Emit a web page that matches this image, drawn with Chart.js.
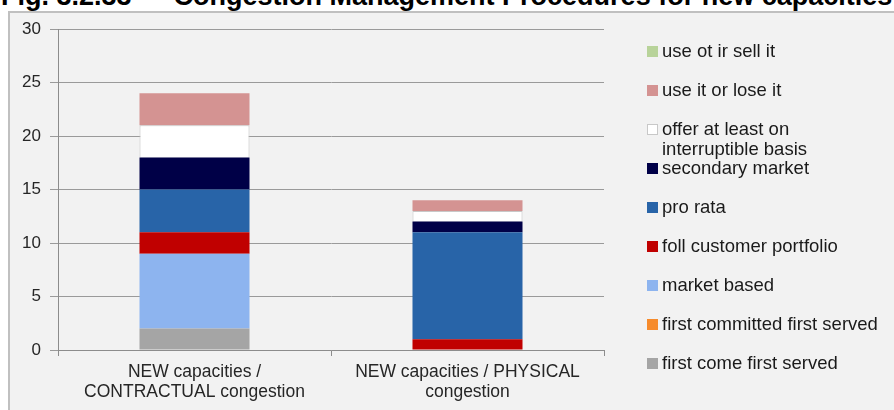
<!DOCTYPE html>
<html>
<head>
<meta charset="utf-8">
<script src="https://cdn.jsdelivr.net/npm/chart.js@4"></script>
<style>
  body { margin: 0; background: #ffffff; font-family: "Liberation Sans", Arial, sans-serif; }
  #wrap { position: relative; width: 894px; height: 410px; overflow: hidden; }
  #titulo {
    position: absolute; left: 1px; top: -17px; white-space: nowrap;
    font: bold 27px/27px "Liberation Sans", Arial, sans-serif; color: #000;
  }
  #marco {
    position: absolute; left: 8px; top: 11px; width: 900px; height: 420px;
    background: #f2f2f2; border-left: 2px solid #c0c0c0; border-top: 2px solid #c0c0c0;
  }
  #grafico { position: absolute; left: 0; top: 0; }
  #leyenda { position: absolute; left: 0; top: 0; }
  .item { position: absolute; left: 647px; font-size: 18.5px; line-height: 20px; color: #1a1a1a; white-space: nowrap; }
  .caja { position: absolute; left: 0; top: 5px; width: 11px; height: 11px; box-sizing: border-box; }
  .texto { position: absolute; left: 15px; top: 0; }
</style>
</head>
<body>
<div id="wrap">
  <div id="titulo">Fig. 3.2.33 — Congestion Management Procedures for new capacities</div>
  <div id="marco"></div>
  <canvas id="grafico" width="894" height="410"></canvas>
  <div id="leyenda"></div>
</div>
<script>
// categorias y valores (de abajo hacia arriba en la pila)
const categorias = [["NEW capacities /", "CONTRACTUAL congestion"], ["NEW capacities / PHYSICAL", "congestion"]];
const firstCome = [2, 0];
const firstCommitted = [0, 0];
const marketBased = [7, 0];
const follPortfolio = [2, 1];
const proRata = [4, 10];
const secondaryMarket = [3, 1];
const offerInterruptible = [3, 1];
const useOrLose = [3, 1];
const useOrSell = [0, 0];
const yMin = 0, yMax = 30, yPaso = 5;

const series = [
  { label: ["first come first served"], data: firstCome, color: "#a5a5a5" },
  { label: ["first committed first served"], data: firstCommitted, color: "#f68b2c" },
  { label: ["market based"], data: marketBased, color: "#8db4ef" },
  { label: ["foll customer portfolio"], data: follPortfolio, color: "#c00000" },
  { label: ["pro rata"], data: proRata, color: "#2864a8" },
  { label: ["secondary market"], data: secondaryMarket, color: "#000047" },
  { label: ["offer at least on", "interruptible basis"], data: offerInterruptible, color: "#ffffff", borde: "#c8c8c8" },
  { label: ["use it or lose it"], data: useOrLose, color: "#d49392" },
  { label: ["use ot ir sell it"], data: useOrSell, color: "#b8d39a" }
];

const ctx = document.getElementById("grafico").getContext("2d");
new Chart(ctx, {
  type: "bar",
  data: {
    labels: categorias,
    datasets: series.map(s => ({
      label: s.label.join(" "),
      data: s.data,
      backgroundColor: s.color,
      borderColor: s.borde || s.color,
      borderWidth: s.borde ? 1 : 0,
      barPercentage: 0.403,
      categoryPercentage: 1
    }))
  },
  options: {
    responsive: false,
    animation: false,
    layout: { padding: { left: 8, right: 290, top: 29, bottom: 0 } },
    plugins: { legend: { display: false }, tooltip: { enabled: false } },
    scales: {
      x: {
        stacked: true,
        afterFit: s => { s.height = 60; },
        grid: { drawOnChartArea: false, drawTicks: true, tickLength: 6, color: "#8c8c8c", offset: true },
        border: { color: "#8c8c8c" },
        ticks: { color: "#262626", padding: 6, font: { family: "Liberation Sans", size: 17.5, lineHeight: "20px" }, maxRotation: 0 }
      },
      y: {
        stacked: true,
        min: yMin, max: yMax,
        afterFit: s => { s.width = 50; },
        grid: { color: "#9a9a9a", tickLength: 8 },
        border: { color: "#8c8c8c" },
        ticks: { stepSize: yPaso, color: "#262626", padding: 9, font: { family: "Liberation Sans", size: 17 } }
      }
    }
  }
});

// leyenda a la derecha, de arriba hacia abajo
const leyenda = document.getElementById("leyenda");
series.slice().reverse().forEach((s, i) => {
  const item = document.createElement("div");
  item.className = "item";
  item.style.top = (51 - 10 + 39 * i) + "px";
  const caja = document.createElement("div");
  caja.className = "caja";
  caja.style.background = s.color;
  if (s.borde) caja.style.border = "1px solid " + s.borde;
  const texto = document.createElement("div");
  texto.className = "texto";
  texto.innerHTML = s.label.join("<br>");
  item.appendChild(caja);
  item.appendChild(texto);
  leyenda.appendChild(item);
});
</script>
</body>
</html>
